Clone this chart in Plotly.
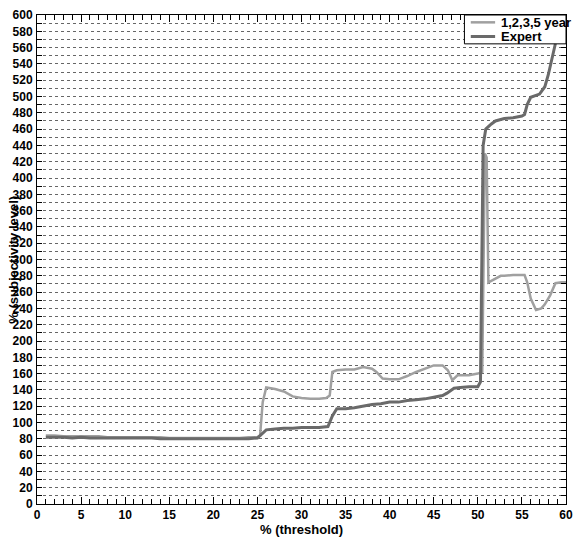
import plotly.graph_objects as go

# Threshold (%) vs subjectivity level (%) for the two rating schemes
year_x = [1, 2, 3, 4, 5, 6, 7, 8, 9, 10, 11, 12, 13, 14, 15, 16, 17, 18, 19, 20,
          21, 22, 23, 24, 25, 25.3, 25.6, 26, 27, 28, 29, 30, 31, 32, 32.8, 33.2,
          33.5, 34, 35, 36, 37, 38, 38.5, 39.2, 40, 41, 42, 43, 44, 45, 46, 46.6,
          47.1, 47.7, 48.5, 49, 50, 50.5, 50.8, 51.0, 51.2, 52, 52.6, 53, 54, 55.3,
          55.6, 56, 56.6, 57.2, 57.6, 58.2, 58.8, 59.5, 60]
year_y = [84, 84, 83, 83, 83, 83, 83, 82, 82, 82, 82, 82, 82, 82, 81, 81, 81, 81, 81, 81,
          81, 81, 81, 82, 82, 84, 125, 143, 141, 138, 132, 130, 129, 129, 130, 133,
          162, 164, 165, 165, 168, 166, 162, 154, 153, 153, 157, 162, 166, 170, 170, 164,
          152, 158, 158, 158, 160, 162, 430, 425, 272, 276, 280, 280, 281, 281,
          272, 252, 238, 240, 245, 256, 271, 272, 272]

expert_x = [1, 2, 3, 4, 5, 6, 7, 8, 9, 10, 11, 12, 13, 14, 15, 16, 17, 18, 19, 20,
            21, 22, 23, 24, 25, 26, 27, 28, 29, 30, 31, 32, 33, 33.5, 34, 35, 36, 37,
            38, 39, 40, 41, 42, 43, 44, 45, 46, 46.5, 47.3, 48, 49, 50, 50.3, 50.6,
            50.9, 51.5, 52, 53, 54, 55, 55.3, 55.6, 56, 57, 57.6, 58, 58.4, 58.8]
expert_y = [82, 82, 82, 81, 82, 81, 81, 81, 81, 81, 81, 81, 81, 80, 80, 80, 80, 80, 80, 80,
            80, 80, 80, 80, 81, 91, 92, 93, 93, 94, 94, 94, 95, 108, 117, 117, 118, 120,
            122, 123, 125, 125, 127, 128, 129, 131, 133, 136, 142, 143, 144, 144, 150, 440,
            460, 466, 470, 473, 474, 476, 478, 490, 499, 503, 512, 527, 548, 565]

series_names = ["1,2,3,5 year", "Expert"]
series_colors = ["#a0a0a0", "#6a6a6a"]
series_widths = [2.5, 3]

x_ticks = list(range(0, 61, 5))
y_ticks = list(range(0, 601, 20))

FONT = "Liberation Sans"
NARROW = "Liberation Sans Narrow, Arial Narrow, Liberation Sans"

fig = go.Figure()
for xs, ys, name, color, width in zip([year_x, expert_x], [year_y, expert_y],
                                      series_names, series_colors, series_widths):
    fig.add_trace(go.Scatter(x=xs, y=ys, mode="lines", name=name,
                             line=dict(color=color, width=width)))

fig.update_layout(
    width=581, height=542,
    margin=dict(l=37, r=8, t=15, b=37),
    paper_bgcolor="white", plot_bgcolor="white",
    font=dict(family=FONT, size=12, color="black"),
    showlegend=False,
)

fig.update_xaxes(
    range=[0, 60], tickvals=x_ticks, ticks="inside", ticklen=7, tickwidth=1,
    tickcolor="black", showline=True, linecolor="black", linewidth=1, mirror="ticks",
    showgrid=False, zeroline=False,
    tickfont=dict(family=FONT, size=12, weight="bold"),
    minor=dict(dtick=1, ticks="inside", ticklen=5, tickcolor="black", showgrid=False),
    title=dict(text="% (threshold)", standoff=2,
               font=dict(family=NARROW, size=13, weight="bold")),
)
fig.update_yaxes(
    range=[0, 600], tickvals=y_ticks, ticks="inside", ticklen=5, tickwidth=1,
    tickcolor="black", showline=True, linecolor="black", linewidth=1, mirror="ticks",
    showgrid=True, gridcolor="#666666", gridwidth=0.7, griddash="dot", zeroline=False,
    tickfont=dict(family=FONT, size=12, weight="bold"), ticklabelstandoff=1,
    minor=dict(dtick=10, ticks="inside", ticklen=5, tickcolor="black",
               showgrid=True, gridcolor="#666666", gridwidth=0.7, griddash="dot"),
)

fig.add_annotation(
    text="% (subjectivity level)", textangle=-90,
    xref="paper", yref="paper", x=-0.045, y=0.5, xanchor="center", yanchor="middle",
    showarrow=False, font=dict(family=NARROW, size=13, color="black", weight="bold"),
)

# Compact legend box in the upper-right corner of the plot area
fig.add_shape(type="rect", xref="paper", yref="paper", x0=0.808, x1=1.0, y0=0.941, y1=1.0,
              line=dict(color="black", width=1), fillcolor="white", layer="above")
row_y = [0.985, 0.956]
for name, color, width, yy in zip(series_names, series_colors, series_widths, row_y):
    fig.add_shape(type="line", xref="paper", yref="paper", x0=0.82, x1=0.866, y0=yy, y1=yy,
                  line=dict(color=color, width=width), layer="above")
    fig.add_annotation(text=name, xref="paper", yref="paper", x=0.874, y=yy,
                       xanchor="left", yanchor="middle", showarrow=False,
                       font=dict(family=NARROW, size=13, color="black", weight="bold"))

fig.write_html("out.html")
